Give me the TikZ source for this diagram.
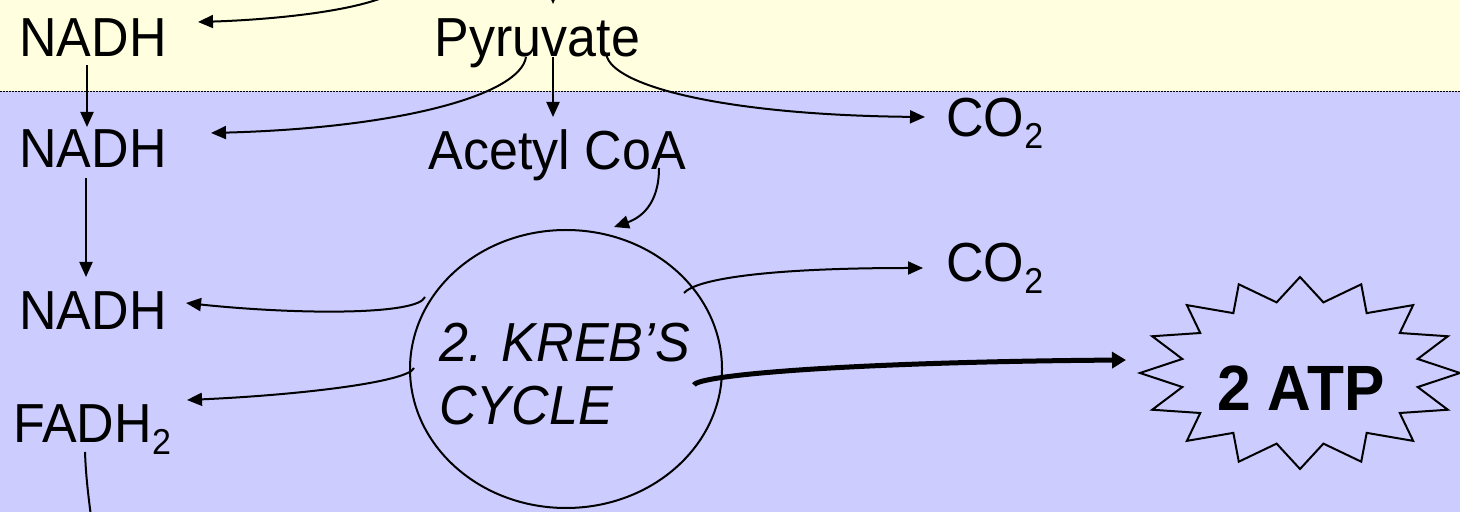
\documentclass[tikz,border=0pt]{standalone}
\usepackage{fontspec}
\setmainfont[FakeStretch=0.945]{Liberation Sans}
\usetikzlibrary{arrows.meta,shapes.geometric,calc}
\definecolor{topbg}{HTML}{FFFFE0}
\definecolor{botbg}{HTML}{CCCCFF}
\newcommand{\lowsub}[1]{\raisebox{-6pt}{\fontsize{18}{18}\selectfont #1}}
\begin{document}
\begin{tikzpicture}[x=0.5pt,y=-0.5pt,
  lbl/.style={inner sep=0pt,font=\fontsize{27.5}{31.5}\selectfont},
  arr/.style={line width=1pt,-{Triangle[length=7.5pt,width=6.5pt]}},
  plainline/.style={line width=1pt},
  thickarr/.style={line width=2.5pt,-{Triangle[length=7pt,width=8pt]}}]
\useasboundingbox (0,0) rectangle (1460,512);
\fill[topbg] (0,0) rectangle (1460,91.5);
\fill[botbg] (0,91.5) rectangle (1460,512);
\draw[line width=0.75pt,dash pattern=on 1pt off 0.5pt] (0,91.5) -- (1460,91.5);

% nodes
\node[lbl,anchor=base] (nadh1) at (93,57) {NADH};
\node[lbl,anchor=base] (pyr) at (537.5,57) {Pyruvate};
\node[lbl,anchor=base] (nadh2) at (93,168) {NADH};
\node[lbl,anchor=base] (acoa) at (557.5,170) {Acetyl CoA};
\node[lbl,anchor=base west] (co2a) at (946,137) {CO\lowsub{2}};
\node[lbl,anchor=base] (nadh3) at (93,330) {NADH};
\node[lbl,anchor=base west] (fadh) at (13,443) {FADH\lowsub{2}};
\node[lbl,anchor=base west] (co2b) at (946,282) {CO\lowsub{2}};
\node[draw,line width=1pt,ellipse,minimum width=156pt,minimum height=139pt,
      inner sep=0pt] (kreb) at (566,369) {};
\node[lbl,anchor=base west,align=left,font=\fontsize{27.5}{31.5}\selectfont\itshape]
      (krebtxt) at (439,425) {2. KREB’S\\CYCLE};

% starburst
\draw[line width=1pt] (1460,373)
  \foreach \a in {0,22.5,...,337.5} {
    -- ({1300+120*cos(\a+11.25)},{373-72*sin(\a+11.25)})
    -- ({1300+160*cos(\a+22.5)},{373-96*sin(\a+22.5)}) } -- cycle;
\node[inner sep=0pt,font=\bfseries\fontsize{32}{36}\selectfont] (atp) at (1301,388) {2 ATP};

% free ends
\coordinate (g1) at (395,-8);
\coordinate (g2) at (553,-20);
\coordinate (g3) at (92,525);

% connectors
\draw[arr] (g1) .. controls (360,12) and (265,20) .. ([shift={(31,-35)}]nadh1.base east);
\draw[arr] (g2) -- ([shift={(15.5,-53)}]pyr.base);
\draw[arr] ([shift={(-6,8)}]nadh1.base) -- ([shift={(-6,-41)}]nadh2.base);
\draw[arr] ([shift={(-11.5,0)}]pyr.base) .. controls (520,95) and (400,128) .. ([shift={(44,-35)}]nadh2.base east);
\draw[arr] ([shift={(15.5,0)}]pyr.base) -- ([shift={(-4.5,-53)}]acoa.base);
\draw[arr] ([shift={(69,-2)}]pyr.base) .. controls (612,85) and (720,115) .. ([shift={(-21,-20)}]co2a.base west);
\draw[arr] ([shift={(-7,10)}]nadh2.base) -- ([shift={(-7,-53)}]nadh3.base);
\draw[arr] ([shift={(101.5,-2)}]acoa.base) .. controls (659,205) and (640,218) .. ([shift={(48,-142)}]kreb.center);
\draw[arr] ([shift={(-141,-72)}]kreb.center) .. controls (418,315) and (300,315) .. ([shift={(19,-27)}]nadh3.base east);
\draw[arr] ([shift={(-152,-1)}]kreb.center) .. controls (408,382) and (300,395) .. ([shift={(174,-43)}]fadh.base west);
\draw[plainline] ([shift={(72,9)}]fadh.base west) .. controls (86,480) and (89,500) .. (g3);
\draw[arr] ([shift={(118,-76)}]kreb.center) .. controls (695,280) and (760,268) .. ([shift={(-23,-14)}]co2b.base west);
\draw[thickarr] ([shift={(128,16)}]kreb.center) .. controls (698,375) and (850,362) .. ([shift={(-175,-28)}]atp.center);
\end{tikzpicture}
\end{document}
